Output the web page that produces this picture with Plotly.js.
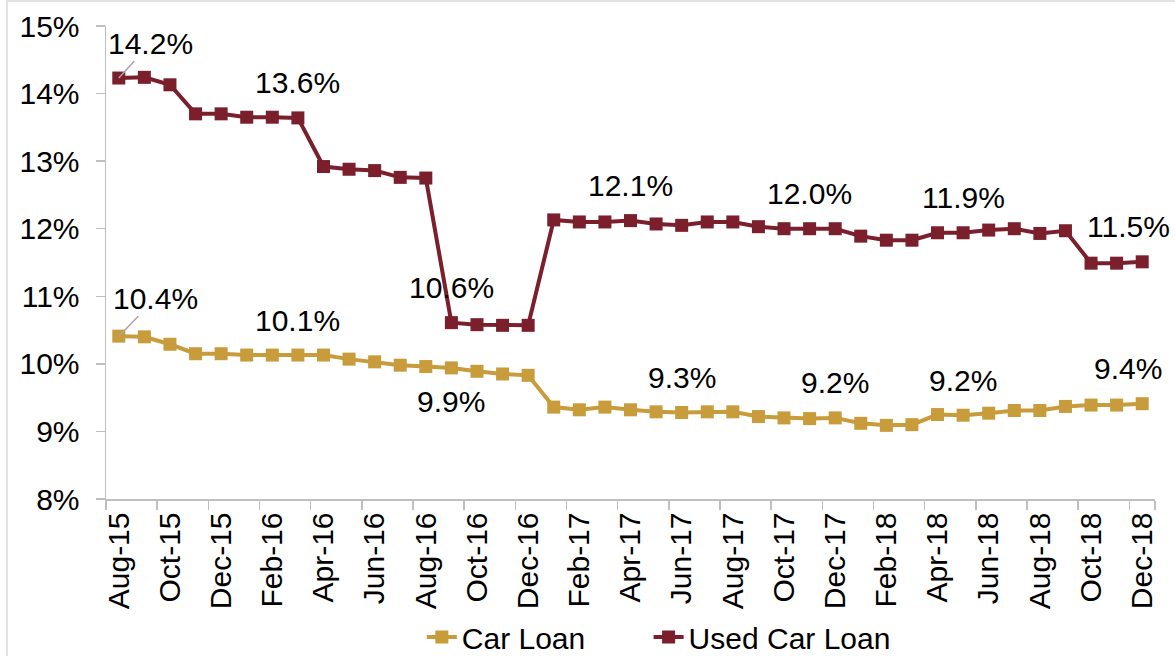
<!DOCTYPE html>
<html><head><meta charset="utf-8">
<script src="https://cdn.plot.ly/plotly-3.0.1.min.js"></script>
<style>html,body{margin:0;padding:0;background:#fff}#chart{width:1175px;height:656px}</style>
</head><body><div id="chart"></div>
<script>
const months = ["Aug-15","Sep-15","Oct-15","Nov-15","Dec-15","Jan-16","Feb-16","Mar-16","Apr-16","May-16","Jun-16","Jul-16","Aug-16","Sep-16","Oct-16","Nov-16","Dec-16","Jan-17","Feb-17","Mar-17","Apr-17","May-17","Jun-17","Jul-17","Aug-17","Sep-17","Oct-17","Nov-17","Dec-17","Jan-18","Feb-18","Mar-18","Apr-18","May-18","Jun-18","Jul-18","Aug-18","Sep-18","Oct-18","Nov-18","Dec-18"];
const carLoan = [10.41,10.40,10.29,10.15,10.15,10.13,10.13,10.13,10.13,10.07,10.03,9.98,9.96,9.94,9.89,9.85,9.83,9.36,9.32,9.36,9.32,9.29,9.28,9.29,9.29,9.22,9.20,9.19,9.20,9.12,9.09,9.10,9.25,9.24,9.27,9.31,9.31,9.37,9.39,9.39,9.41];
const usedCarLoan = [14.23,14.24,14.13,13.70,13.70,13.65,13.65,13.64,12.92,12.88,12.86,12.76,12.75,10.61,10.58,10.57,10.57,12.13,12.10,12.10,12.12,12.07,12.05,12.10,12.10,12.03,12.00,12.00,12.00,11.89,11.83,11.83,11.94,11.94,11.98,12.00,11.93,11.97,11.49,11.49,11.51];
const tickMonths = months.filter((m, i) => i % 2 === 0);
// labelled points: index and placement
const carLabels = [[0,"lead"],[7,"above"],[13,"below"],[22,"above"],[28,"above"],[33,"above"],[40,"end"]];
const usedLabels = [[0,"lead"],[7,"above"],[13,"above"],[20,"above"],[27,"above"],[33,"above"],[40,"end"]];

const carColor = "#C89B3B";
const usedColor = "#7A1F2B";
const FONT = "Liberation Sans, Arial, sans-serif";
const FS = 30;

function makeAnn(vals, labels, leadOff) {
  return labels.map(([i, pos]) => {
    const a = {x: months[i], y: vals[i], text: vals[i].toFixed(1) + "%",
      font: {family: FONT, size: FS, color: "#000"}, xref: "x", yref: "y"};
    if (pos === "lead") {
      Object.assign(a, {showarrow: true, arrowhead: 0, arrowwidth: 1.5, arrowcolor: "#A6A6A6",
        ax: leadOff[0], ay: leadOff[1], standoff: 0, startstandoff: 0});
    } else {
      a.showarrow = false;
      a.yanchor = "middle";
      a.yshift = pos === "below" ? -34 : 35;
      if (pos === "end") a.xshift = -14;
    }
    return a;
  });
}

const traces = [
  {x: months, y: carLoan, name: "Car Loan", type: "scatter", mode: "lines+markers", legend: "legend",
   line: {color: carColor, width: 4}, marker: {symbol: "square", size: 13, color: carColor}},
  {x: months, y: usedCarLoan, name: "Used Car Loan", type: "scatter", mode: "lines+markers", legend: "legend2",
   line: {color: usedColor, width: 4}, marker: {symbol: "square", size: 13, color: usedColor}}
];

const legendBase = {orientation: "h", xref: "container", yref: "container", xanchor: "left",
  y: 0.029, yanchor: "middle", font: {family: FONT, size: FS, color: "#000"}, itemwidth: 30};

const layout = {
  width: 1175, height: 656,
  margin: {l: 106, r: 20, t: 26, b: 157, autoexpand: false},
  paper_bgcolor: "#fff", plot_bgcolor: "#fff",
  font: {family: FONT, size: FS, color: "#000"},
  showlegend: true,
  legend: Object.assign({}, legendBase, {x: 0.359}),
  legend2: Object.assign({}, legendBase, {x: 0.552}),
  xaxis: {type: "category", categoryorder: "array", categoryarray: months, automargin: false,
    range: [-0.5, months.length - 0.5], tickmode: "array", tickvals: tickMonths, ticktext: tickMonths,
    tickson: "boundaries", ticks: "outside", ticklen: 9, tickcolor: "#BFBFBF", tickwidth: 1.5,
    tickangle: -90, showline: true, linecolor: "#BFBFBF", linewidth: 1.5, showgrid: false, zeroline: false,
    tickfont: {family: FONT, size: FS, color: "#000"}},
  yaxis: {range: [8, 15], dtick: 1, tick0: 8, ticksuffix: "%", ticks: "outside", ticklen: 9, automargin: false,
    ticklabelstandoff: 10,
    tickcolor: "#BFBFBF", tickwidth: 1.5, showline: true, linecolor: "#BFBFBF", linewidth: 1.5,
    showgrid: false, zeroline: false, tickfont: {family: FONT, size: FS, color: "#000"}},
  annotations: makeAnn(usedCarLoan, usedLabels, [32, -35]).concat(makeAnn(carLoan, carLabels, [37, -38])),
  shapes: [{type: "rect", xref: "paper", yref: "paper", x0: -0.0944, x1: 1.2, y0: -0.6, y1: 1.0529,
    line: {color: "#D9D9D9", width: 1.5}, fillcolor: "rgba(0,0,0,0)", layer: "below"}]
};

Plotly.newPlot("chart", traces, layout, {displayModeBar: false, staticPlot: true});
</script></body></html>
